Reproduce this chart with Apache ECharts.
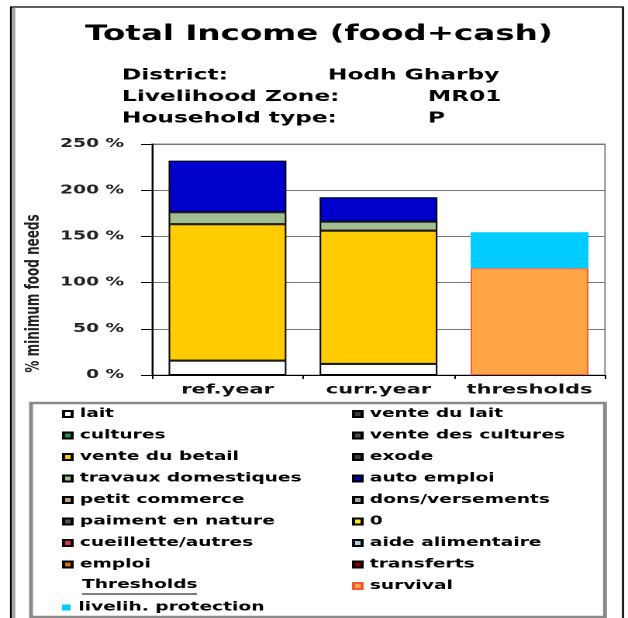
<!DOCTYPE html>
<html><head><meta charset="utf-8">
<script src="https://cdn.jsdelivr.net/npm/echarts@6/dist/echarts.min.js"></script>
<style>
html,body{margin:0;padding:0;background:#fff;overflow:hidden;}
#chart{width:405px;height:618px;transform:scaleX(1.5506);transform-origin:0 0;}
</style></head><body><div id="chart"></div>
<script>
// ---- data ----
const categories = ['ref.year', 'curr.year', 'thresholds'];
const yTicks = [0, 50, 100, 150, 200, 250];
const lait = [15.5, 12, null];
const venteDuLait = [null, null, null];
const cultures = [null, null, null];
const venteDesCultures = [null, null, null];
const venteDuBetail = [147.6, 144.3, null];
const exode = [null, null, null];
const travauxDomestiques = [13, 9.7, null];
const autoEmploi = [55.9, 26.4, null];
const petitCommerce = [null, null, null];
const donsVersements = [null, null, null];
const paimentEnNature = [null, null, null];
const zeroSeries = [null, null, null];
const cueilletteAutres = [null, null, null];
const aideAlimentaire = [null, null, null];
const emploi = [null, null, null];
const transferts = [null, null, null];
const survival = [null, null, 115.5];
const livelihProtection = [null, null, 39];

// ---- styling ----
const S = 628 / 405;
const u = x => x / S;
const FONT = 'DejaVu Sans';
const seriesDefs = [
  ['lait', lait, '#FFFFFF', '#000'],
  ['vente du lait', venteDuLait, '#3a3a3a', '#000'],
  ['cultures', cultures, '#2E8B57', '#000'],
  ['vente des cultures', venteDesCultures, '#4a4a4a', '#000'],
  ['vente du betail', venteDuBetail, '#FFCC00', '#000'],
  ['exode', exode, '#3c3c3c', '#000'],
  ['travaux domestiques', travauxDomestiques, '#A0BE92', '#000'],
  ['auto emploi', autoEmploi, '#0000CC', '#000'],
  ['petit commerce', petitCommerce, '#C9A27A', '#000'],
  ['dons/versements', donsVersements, '#A8A8A8', '#000'],
  ['paiment en nature', paimentEnNature, '#555555', '#000'],
  ['0', zeroSeries, '#FFEE00', '#000'],
  ['cueillette/autres', cueilletteAutres, '#E0304A', '#000'],
  ['aide alimentaire', aideAlimentaire, '#A8CCF0', '#000'],
  ['emploi', emploi, '#CC7A00', '#000'],
  ['transferts', transferts, '#8B0000', '#000'],
  ['survival', survival, '#FFA545', '#F25A3A'],
  ['livelih. protection', livelihProtection, '#00CCFF', null]
];
const leftNames = ['lait','cultures','vente du betail','travaux domestiques','petit commerce','paiment en nature','cueillette/autres','emploi'];
const rightNames = ['vente du lait','vente des cultures','exode','auto emploi','dons/versements','0','aide alimentaire','transferts','survival'];

const chart = echarts.init(document.getElementById('chart'), null, {renderer:'canvas', devicePixelRatio: 2});
const txt = {fontFamily: FONT, fontWeight: 'bold', color: '#000'};
const legendBase = {
  orient: 'vertical', itemWidth: 5.5, itemHeight: 6, itemGap: 7.5, itemTextGap: 2,
  padding: 0, selectedMode: false, icon: 'rect',
  textStyle: Object.assign({fontSize: 12, lineHeight: 14}, txt)
};
const rowY = 414, rowStep = 21.5;

chart.setOption({
  animation: false,
  backgroundColor: '#fff',
  title: [
    {text: 'Total Income (food+cash)', left: u(85), top: 22, padding: 0,
     textStyle: Object.assign({fontSize: 21, lineHeight: 25}, txt)},
    {text: 'District:\nLivelihood Zone:\nHousehold type:', left: u(122), top: 65, padding: 0,
     textStyle: Object.assign({fontSize: 15, lineHeight: rowStep}, txt)},
    {text: 'Hodh Gharby', left: u(328), top: 65, padding: 0,
     textStyle: Object.assign({fontSize: 15, lineHeight: rowStep}, txt)},
    {text: 'MR01\nP', left: u(428), top: 65 + rowStep, padding: 0,
     textStyle: Object.assign({fontSize: 15, lineHeight: rowStep}, txt)}
  ],
  grid: {left: u(152), right: 405 - u(605), top: 144, bottom: 618 - 375,
         show: true, borderColor: '#888', borderWidth: 1, backgroundColor: '#fff'},
  xAxis: {
    type: 'category', data: categories,
    axisLine: {lineStyle: {color: '#000', width: 1}},
    axisTick: {show: true, length: 4, lineStyle: {color: '#000'}},
    axisLabel: {interval: 0, fontSize: 13.5, margin: 8, color: '#111', fontFamily: FONT, fontWeight: 'bold'}
  },
  yAxis: {
    type: 'value', min: yTicks[0], max: yTicks[yTicks.length - 1], interval: yTicks[1] - yTicks[0],
    name: '% minimum food needs', nameLocation: 'middle', nameGap: 65, nameRotate: 90,
    nameTextStyle: {fontFamily: FONT, fontWeight: 'bold', fontSize: 12, color: '#222', padding: [0, 68, 0, 0]},
    axisLine: {show: true, lineStyle: {color: '#000', width: 1}},
    axisTick: {show: true, length: 7, lineStyle: {color: '#000'}},
    axisLabel: {fontFamily: FONT, fontWeight: 'bold', fontSize: 12, color: '#222', margin: 18,
                formatter: v => v + ' %'},
    splitLine: {show: true, lineStyle: {color: '#777', width: 1}}
  },
  legend: [
    Object.assign({left: u(62), top: rowY - 7, data: leftNames}, legendBase),
    Object.assign({left: u(352), top: rowY - 7, data: rightNames}, legendBase),
    Object.assign({left: u(62), top: rowY + 9 * rowStep - 7, data: ['livelih. protection']}, legendBase)
  ],
  series: seriesDefs.map(([name, data, color, border]) => ({
    name, type: 'bar', stack: 'total', data, barWidth: '78%',
    itemStyle: {color, borderColor: border || color, borderWidth: border ? 1 : 0},
    emphasis: {disabled: true}
  })),
  graphic: [
    {type: 'rect', silent: true, shape: {x: u(11), y: 7, width: u(623) - u(11), height: 640},
     style: {fill: 'none', stroke: '#000', lineWidth: 1.3}},
    {type: 'line', silent: true, shape: {x1: u(14), y1: 8, x2: u(14), y2: 618},
     style: {stroke: '#9a9a9a', lineWidth: 1.5}},
    {type: 'rect', silent: true, shape: {x: u(31), y: 403, width: u(605) - u(31), height: 214},
     style: {fill: 'none', stroke: '#8a8a8a', lineWidth: 2.5}},
    {type: 'text', silent: true, left: u(82), top: rowY + 8 * rowStep - 7,
     style: {text: 'Thresholds', font: 'bold 12px "DejaVu Sans"', fill: '#000'}},
    {type: 'line', silent: true, shape: {x1: u(82), y1: rowY + 8 * rowStep + 8, x2: u(197), y2: rowY + 8 * rowStep + 8},
     style: {stroke: '#000', lineWidth: 1}}
  ]
});
</script></body></html>
